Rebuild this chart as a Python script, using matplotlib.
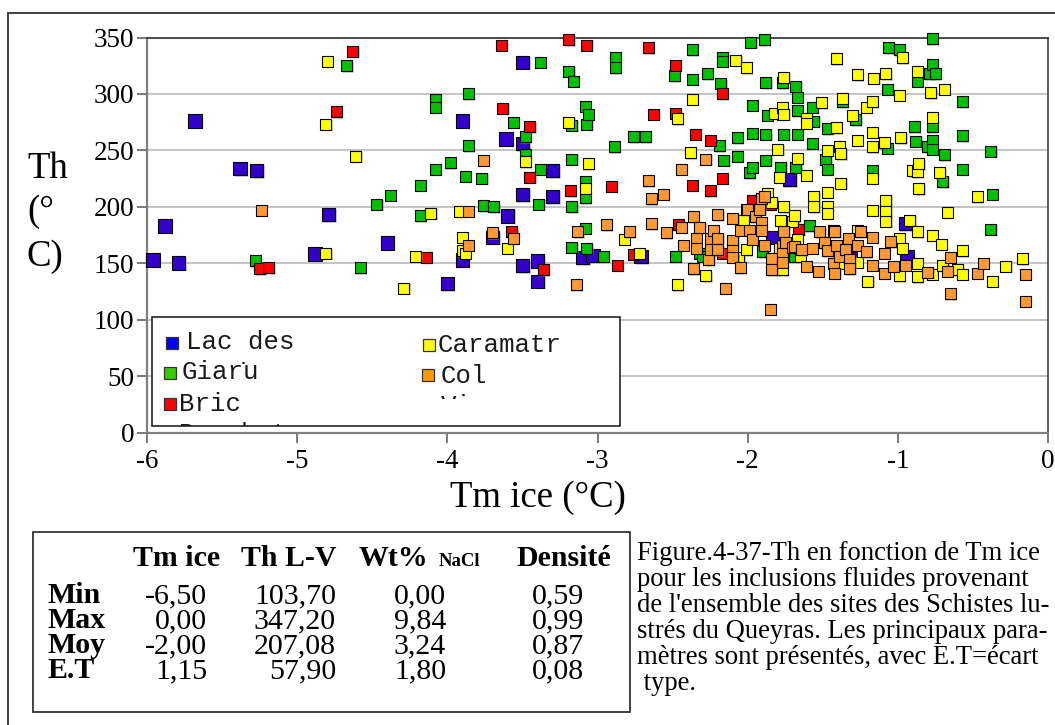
import matplotlib
matplotlib.use("Agg")
import matplotlib.pyplot as plt
from matplotlib.patches import Rectangle
from matplotlib.transforms import Bbox, TransformedBbox
from matplotlib import patheffects as pe

# ---------------- data ----------------
lac_tm = [-5.96, -5.88, -5.79, -5.68, -5.38, -5.27, -4.88, -4.79, -4.40, -4.00, -3.90, -3.90,
          -3.70, -3.61, -3.60, -3.50, -3.50, -3.50, -3.50, -3.40, -3.40, -3.30, -3.30, -3.10,
          -3.03, -2.71, -2.24, -1.83, -1.72, -1.32, -0.95, -0.94]
lac_th = [153, 183, 150, 276, 234, 232, 158, 193, 168, 132, 276, 153,
          173, 260, 192, 328, 256, 211, 148, 152, 134, 232, 209, 155,
          157, 156, 163, 173, 224, 154, 185, 156]

giaru_tm = [-5.28, -4.67, -4.58, -4.47, -4.38, -4.18, -4.18, -4.08, -4.08, -4.08, -3.98, -3.88,
            -3.86, -3.86, -3.77, -3.76, -3.69, -3.56, -3.48, -3.48, -3.39, -3.38, -3.38, -3.19,
            -3.17, -3.17, -3.17, -3.17, -3.16, -3.08, -3.08, -3.08, -3.08, -3.07, -3.07, -3.06,
            -2.96, -2.89, -2.88, -2.88, -2.76, -2.68, -2.49, -2.48, -2.37, -2.37, -2.32, -2.30,
            -2.27, -2.19, -2.18, -2.17, -2.17, -2.16, -2.07, -2.07, -1.99, -1.98, -1.97, -1.97,
            -1.97, -1.90, -1.89, -1.88, -1.88, -1.88, -1.87, -1.78, -1.77, -1.77, -1.76, -1.69,
            -1.68, -1.68, -1.67, -1.67, -1.67, -1.59, -1.57, -1.57, -1.56, -1.48, -1.47, -1.47,
            -1.37, -1.28, -1.17, -1.07, -1.07, -1.06, -0.99, -0.89, -0.88, -0.87, -0.80, -0.79,
            -0.77, -0.77, -0.77, -0.77, -0.77, -0.75, -0.70, -0.69, -0.57, -0.57, -0.57, -0.38,
            -0.38, -0.37]
giaru_th = [152, 325, 146, 202, 210, 219, 192, 295, 288, 233, 239, 227,
            300, 254, 225, 201, 200, 275, 262, 246, 202, 328, 233, 320,
            272, 242, 200, 164, 311, 289, 222, 208, 181, 273, 163, 282,
            156, 253, 332, 323, 262, 262, 316, 156, 339, 313, 159, 156,
            318, 254, 309, 332, 329, 241, 261, 245, 230, 346, 290, 265,
            235, 160, 348, 310, 264, 241, 281, 235, 310, 282, 264, 156,
            307, 235, 297, 285, 264, 183, 288, 256, 276, 242, 269, 233,
            293, 277, 232, 304, 252, 341, 339, 271, 258, 311, 253, 318,
            349, 326, 271, 259, 251, 318, 222, 246, 293, 263, 233, 249,
            180, 211]

bric_tm = [-5.25, -5.19, -4.74, -4.63, -4.14, -3.64, -3.63, -3.57, -3.45, -3.45, -3.36, -3.19,
           -3.18, -3.07, -2.91, -2.87, -2.76, -2.66, -2.63, -2.48, -2.48, -2.46, -2.37, -2.35,
           -2.25, -2.25, -2.17, -2.17, -2.17, -1.97, -1.85, -1.66]
bric_th = [145, 146, 284, 338, 155, 343, 287, 178, 271, 226, 144, 348,
           214, 343, 218, 148, 158, 341, 282, 325, 283, 184, 219, 264,
           259, 214, 300, 225, 159, 206, 202, 180]

cara_tm = [-4.81, -4.81, -4.80, -4.61, -4.29, -4.21, -4.11, -3.92, -3.90, -3.90, -3.88, -3.60,
           -3.48, -3.19, -3.08, -3.06, -2.82, -2.72, -2.47, -2.47, -2.38, -2.37, -2.28, -2.08,
           -2.06, -2.03, -2.01, -2.01, -1.87, -1.84, -1.82, -1.80, -1.79, -1.79, -1.78, -1.77,
           -1.77, -1.76, -1.76, -1.76, -1.70, -1.69, -1.67, -1.67, -1.65, -1.61, -1.61, -1.61,
           -1.56, -1.56, -1.51, -1.47, -1.47, -1.47, -1.47, -1.43, -1.41, -1.41, -1.39, -1.39,
           -1.38, -1.38, -1.37, -1.30, -1.27, -1.27, -1.27, -1.27, -1.21, -1.20, -1.17, -1.17,
           -1.17, -1.17, -1.17, -1.16, -1.09, -1.08, -1.08, -1.08, -1.08, -0.99, -0.99, -0.99,
           -0.98, -0.97, -0.97, -0.92, -0.90, -0.87, -0.87, -0.87, -0.87, -0.87, -0.86, -0.86,
           -0.78, -0.77, -0.77, -0.77, -0.72, -0.71, -0.70, -0.69, -0.67, -0.60, -0.57, -0.57,
           -0.47, -0.37, -0.28, -0.17]
cara_th = [159, 273, 329, 245, 128, 156, 194, 196, 173, 161, 159, 163,
           240, 275, 216, 238, 171, 159, 278, 131, 248, 295, 139, 330,
           155, 188, 323, 162, 212, 204, 283, 251, 226, 163, 188, 288,
           144, 315, 282, 200, 187, 192, 243, 171, 156, 278, 274, 228,
           209, 200, 292, 250, 213, 200, 194, 179, 331, 270, 253, 150,
           247, 221, 296, 281, 317, 259, 179, 151, 288, 134, 293, 266,
           253, 225, 197, 314, 257, 318, 206, 196, 187, 299, 172, 139,
           261, 332, 163, 188, 232, 320, 231, 178, 150, 138, 238, 216,
           301, 279, 175, 140, 230, 167, 148, 304, 195, 144, 161, 140,
           209, 134, 147, 154]

col_tm = [-5.24, -3.86, -3.86, -3.76, -3.70, -3.56, -3.14, -3.13, -2.94, -2.79, -2.66, -2.64,
          -2.64, -2.56, -2.54, -2.44, -2.44, -2.43, -2.36, -2.36, -2.34, -2.34, -2.32, -2.28,
          -2.26, -2.25, -2.25, -2.23, -2.20, -2.20, -2.20, -2.15, -2.10, -2.10, -2.10, -2.10,
          -2.05, -2.05, -2.01, -2.00, -1.99, -1.97, -1.95, -1.92, -1.91, -1.91, -1.91, -1.89,
          -1.89, -1.85, -1.84, -1.84, -1.77, -1.77, -1.77, -1.76, -1.75, -1.70, -1.69, -1.64,
          -1.61, -1.57, -1.53, -1.52, -1.49, -1.47, -1.43, -1.42, -1.42, -1.41, -1.39, -1.35,
          -1.33, -1.32, -1.32, -1.27, -1.25, -1.21, -1.17, -1.17, -1.09, -1.09, -1.05, -1.03,
          -0.95, -0.80, -0.67, -0.65, -0.65, -0.47, -0.43, -0.15, -0.15]
col_th = [197, 196, 166, 241, 177, 172, 131, 178, 184, 178, 223, 207,
          185, 211, 177, 233, 182, 166, 191, 145, 172, 163, 182, 242,
          153, 172, 162, 179, 193, 172, 162, 128, 190, 170, 161, 155,
          179, 146, 198, 198, 179, 171, 191, 198, 207, 186, 179, 209,
          166, 109, 154, 144, 166, 159, 151, 178, 168, 164, 165, 162,
          147, 163, 143, 178, 168, 161, 150, 178, 141, 166, 156, 162,
          172, 153, 145, 166, 178, 160, 173, 148, 159, 141, 169, 147,
          148, 142, 143, 155, 123, 141, 150, 140, 116]

legend_labels = ["Lac des", "Giaru", "Bric", "Caramatr", "Col"]
legend_overflow = ["Cordes", "Bouchet", "Vieux"]
x_ticks = [-6, -5, -4, -3, -2, -1, 0]
x_tick_labels = ["-6", "-5", "-4", "-3", "-2", "-1", "0"]
y_ticks = [0, 50, 100, 150, 200, 250, 300, 350]
y_tick_labels = ["0", "50", "100", "150", "200", "250", "300", "350"]

table_headers = ["Tm ice", "Th L-V", "Wt%", "Densité"]
table_rows = ["Min", "Max", "Moy", "E.T"]
col_tmice = ["-6,50", "0,00", "-2,00", "1,15"]
col_thlv = ["103,70", "347,20", "207,08", "57,90"]
col_wt = ["0,00", "9,84", "3,24", "1,80"]
col_dens = ["0,59", "0,99", "0,87", "0,08"]

caption_lines = ["Figure.4-37-Th en fonction de Tm ice",
                 "pour les inclusions fluides provenant",
                 "de l'ensemble des sites des Schistes lu-",
                 "strés du Queyras. Les principaux para-",
                 "mètres sont présentés, avec E.T=écart",
                 " type."]

# ---------------- figure ----------------
W, H = 1055, 725
SERIF = "Liberation Serif"
MONO = "Liberation Mono"
fig = plt.figure(figsize=(W / 100, H / 100), dpi=100)


def fx(px):
    return px / W


def fy(py):
    return 1 - py / H


# outer frame
fig.patches.append(Rectangle((fx(8), fy(730)), fx(1060) - fx(8), fy(13) - fy(730),
                             transform=fig.transFigure, fill=False,
                             edgecolor="#333333", linewidth=1.3, zorder=0))

ax = fig.add_axes([fx(147), fy(432.5), fx(1048) - fx(147), fy(37.5) - fy(432.5)])
ax.set_xlim(-6, 0)
ax.set_ylim(0, 350)
ax.set_xticks(x_ticks)
ax.set_xticklabels(x_tick_labels, fontfamily=SERIF, fontsize=19.5)
ax.set_yticks(y_ticks)
ax.set_yticklabels(y_tick_labels, fontfamily=SERIF, fontsize=19.5)
ax.tick_params(axis="both", direction="out", length=7, width=1.1, color="#555555")
ax.tick_params(axis="x", pad=5)
ax.tick_params(axis="y", pad=2)
ax.yaxis.grid(True, color="#C4C4C4", linewidth=1.4)
ax.set_axisbelow(True)
for side in ("left", "bottom"):
    ax.spines[side].set_color("#808080")
    ax.spines[side].set_linewidth(1.6)
ax.spines["top"].set_color("#222222")
ax.spines["top"].set_linewidth(1.1)
ax.spines["right"].set_color("#333333")
ax.spines["right"].set_linewidth(1.1)

series = [
    (lac_tm, lac_th, "#3300CC", 13.5),
    (giaru_tm, giaru_th, "#00C000", 11),
    (bric_tm, bric_th, "#FF0000", 11),
    (cara_tm, cara_th, "#FFFF00", 11),
    (col_tm, col_th, "#FF9933", 11),
]
shadow = [pe.SimplePatchShadow(offset=(1.0, -1.0), shadow_rgbFace="#999999", alpha=0.45),
          pe.Normal()]
for i, (xs, ys, colr, side_px) in enumerate(series):
    sc = ax.scatter(xs, ys, marker="s", s=(side_px * 0.72) ** 2, c=colr,
                    edgecolors="black", linewidths=0.8, zorder=3 + i, clip_on=False)
    sc.set_path_effects(shadow)

# ---- legend (manual) ----
fig.patches.append(Rectangle((fx(152), fy(426)), fx(620) - fx(152), fy(317) - fy(426),
                             transform=fig.transFigure, facecolor="white",
                             edgecolor="#111111", linewidth=1.1, zorder=5))
leg_markers = [((171.5, 342.5), "#0000FF"), ((170, 373), "#33CC00"), ((170, 403.5), "#FF0000"),
               ((429, 344.5), "#FFFF00"), ((427.5, 374.5), "#FF9900")]
for (cx, cy), colr in leg_markers:
    sz = 12
    fig.patches.append(Rectangle((fx(cx - sz / 2), fy(cy + sz / 2)), sz / W, sz / H,
                                 transform=fig.transFigure, facecolor=colr,
                                 edgecolor="#333333", linewidth=0.9, zorder=6))
leg_text_pos = [(186, 349), (182, 379), (179, 411), (438, 352), (441, 383)]
for (px, py), lab in zip(leg_text_pos, legend_labels):
    fig.text(fx(px), fy(py), lab, fontfamily=MONO, fontsize=18.5, va="baseline",
             ha="left", zorder=7, color="#1a1a1a")

overflow_pos = [((186, 381), 364), ((179, 441), 426), ((441, 413), 399)]
for ((px, py), clip_bottom), lab in zip(overflow_pos, legend_overflow):
    t = fig.text(fx(px), fy(py), lab, fontfamily=MONO, fontsize=18.5, va="baseline",
                 ha="left", zorder=7, color="#1a1a1a")
    cb = TransformedBbox(Bbox.from_extents(fx(152), fy(clip_bottom), fx(620), fy(317)),
                         fig.transFigure)
    t.set_clip_box(cb)
    t.set_clip_on(True)

# ---- axis titles ----
for txt, py in (("Th", 178), ("(°", 221), ("C)", 266)):
    fig.text(fx(27), fy(py), txt, fontfamily=SERIF, fontsize=26.5, va="baseline", ha="left")
fig.text(fx(538), fy(507), "Tm ice (°C)", fontfamily=SERIF, fontsize=26.5,
         va="baseline", ha="center")

# ---- table ----
fig.patches.append(Rectangle((fx(33), fy(712)), fx(630) - fx(33), fy(532) - fy(712),
                             transform=fig.transFigure, fill=False,
                             edgecolor="#333333", linewidth=1.3, zorder=1))
TFS = 21.5
hdr_y = 566
header_x = [177, 289, 393, 564]
for hx, h in zip(header_x, table_headers):
    fig.text(fx(hx), fy(hdr_y), h, fontfamily=SERIF, fontsize=TFS, fontweight="bold",
             va="baseline", ha="center")
fig.text(fx(460), fy(hdr_y), "NaCl", fontfamily=SERIF, fontsize=13.5, fontweight="bold",
         va="baseline", ha="center")
row_y = [603, 628, 653, 678]
for j, ry in enumerate(row_y):
    fig.text(fx(47), fy(ry), table_rows[j], fontfamily=SERIF, fontsize=TFS,
             fontweight="bold", va="baseline", ha="left")
    fig.text(fx(207), fy(ry), col_tmice[j], fontfamily=SERIF, fontsize=TFS,
             va="baseline", ha="right")
    fig.text(fx(336), fy(ry), col_thlv[j], fontfamily=SERIF, fontsize=TFS,
             va="baseline", ha="right")
    fig.text(fx(420), fy(ry), col_wt[j], fontfamily=SERIF, fontsize=TFS,
             va="baseline", ha="center")
    fig.text(fx(558), fy(ry), col_dens[j], fontfamily=SERIF, fontsize=TFS,
             va="baseline", ha="center")

# ---- caption ----
for k, line in enumerate(caption_lines):
    fig.text(fx(637), fy(560 + 26 * k), line, fontfamily=SERIF, fontsize=19.2,
             va="baseline", ha="left")

fig.savefig("out.png", dpi=100)
